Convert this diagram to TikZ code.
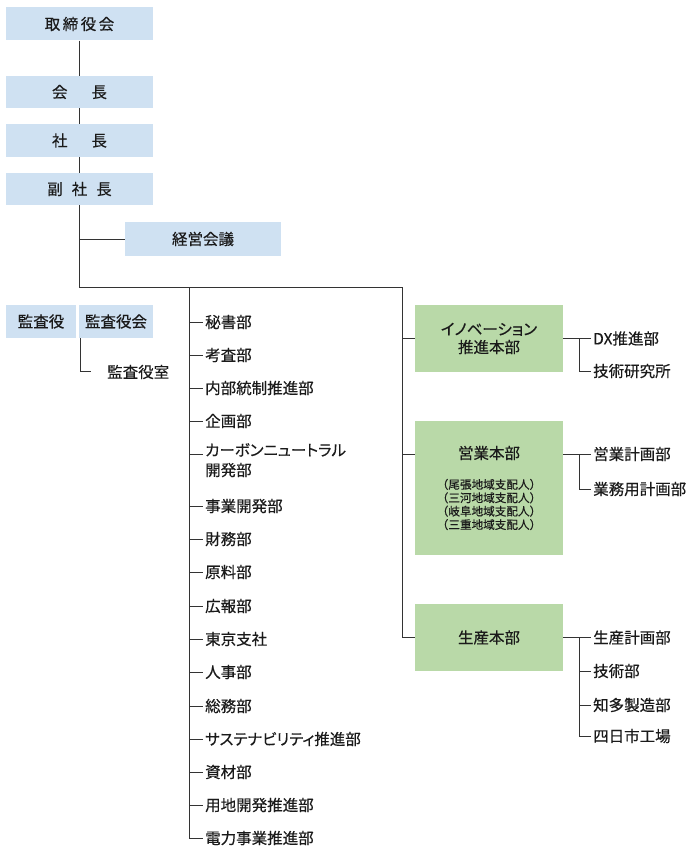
\documentclass[tikz,border=0pt]{standalone}
\usepackage{fontspec}
\setmainfont{Noto Sans CJK JP}[RawFeature=+palt, FakeBold=0.4]
\newfontfamily\cjkfull{Noto Sans CJK JP}[FakeBold=0.4]
\definecolor{boxblue}{HTML}{CFE1F2}
\definecolor{boxgreen}{HTML}{B9D9A8}
\definecolor{linegray}{HTML}{333333}
\definecolor{txt}{HTML}{1A1A1A}
\tikzset{
  bluebox/.style={fill=boxblue, inner sep=0pt, text=txt, font=\fontsize{15.5}{18}\selectfont},
  greenbox/.style={fill=boxgreen, inner sep=0pt, minimum width=148pt, text=txt, align=center, font=\fontsize{15.5}{18}\selectfont},
  item/.style={anchor=west, inner xsep=2pt, inner ysep=0pt, text=txt, align=left, font=\fontsize{15.5}{20}\selectfont},
  subtxt/.style={inner sep=0pt, text=txt, align=center, font=\cjkfull\fontsize{11.6}{13.4}\selectfont},
  conn/.style={draw=linegray, line width=0.9pt},
}
\begin{document}
\begin{tikzpicture}[x=1pt,y=-1pt]
\useasboundingbox (0,0) rectangle (700,859);

% top chain
\node[bluebox, minimum width=147pt, minimum height=33pt] (board) at (79.5,24) {取\kern2.5pt 締\kern2.5pt 役\kern2.5pt 会};
\node[bluebox, minimum width=147pt, minimum height=32pt] (chair) at (79.5,92) {会\hspace{24pt}長};
\node[bluebox, minimum width=147pt, minimum height=33pt] (pres) at (79.5,140.5) {社\hspace{24pt}長};
\node[bluebox, minimum width=147pt, minimum height=32pt] (vp) at (79.5,189) {副\hspace{9pt}社\hspace{9pt}長};
\node[bluebox, minimum width=156pt, minimum height=34pt] (mgmt) at (203,239) {経営会議};

\coordinate (j1) at (79.5,287);
\coordinate (j2) at (402,287);
\coordinate (t0) at (189,287);
\coordinate (kj) at (79.5,239);

\draw[conn] (board) -- (chair);
\draw[conn] (chair) -- (pres);
\draw[conn] (pres) -- (vp);
\draw[conn] (vp) -- (j1) -- (j2);
\draw[conn] (kj) -- (mgmt);

% audit
\node[bluebox, minimum width=70pt, minimum height=33pt] (auditor) at (41,321.5) {監査役};
\node[bluebox, minimum width=74pt, minimum height=33pt] (auditboard) at (116,321.5) {監査役会};
\coordinate (a1) at (80,338);
\coordinate (a2) at (91,371);
\node[item] (auditoffice) at (105,372) {監査役室};
\draw[conn] (a1) |- (a2);

% main list
\node[item] (i1) at (203,322) {秘書部};
\node[item] (i2) at (203,355) {考査部};
\node[item] (i3) at (203,388) {内部統制推進部};
\node[item] (i4) at (203,421) {企画部};
\coordinate (c5) at (203,454);
\node[item, anchor=north west] (i5) at (203,443) {カーボンニュートラル\\開発部};
\node[item] (i6) at (203,506) {事業開発部};
\node[item] (i7) at (203,539) {財務部};
\node[item] (i8) at (203,572) {原料部};
\node[item] (i9) at (203,606) {広報部};
\node[item] (i10) at (203,639) {東京支社};
\node[item] (i11) at (203,672) {人事部};
\node[item] (i12) at (203,706) {総務部};
\node[item] (i13) at (203,739) {サステナビリティ推進部};
\node[item] (i14) at (203,772) {資材部};
\node[item] (i15) at (203,805) {用地開発推進部};
\node[item] (i16) at (203,838) {電力事業推進部};

\draw[conn] (t0) |- (i16.west);
\foreach \n in {i1,i2,i3,i4,i6,i7,i8,i9,i10,i11,i12,i13,i14,i15}
  \draw[conn] (t0 |- \n.west) -- (\n.west);
\draw[conn] (t0 |- c5) -- (c5);

% green column
\node[greenbox, minimum height=67pt] (inov) at (489,338.5) {イノベーション\\推進本部};
\node[greenbox, minimum height=134pt] (sales) at (489,488) {};
\node[inner sep=0pt, text=txt, font=\fontsize{15.5}{18}\selectfont] (salesname) at (489,453) {営業本部};
\node[subtxt] (salessub) at (489,504.5) {（尾張地域支配人）\\（三河地域支配人）\\（岐阜地域支配人）\\（三重地域支配人）};
\node[greenbox, minimum height=67pt] (prod) at (489,637.5) {生産本部};

\coordinate (e1) at (415,454);
\draw[conn] (j2) |- (prod.west);
\draw[conn] (j2 |- inov.west) -- (inov.west);
\draw[conn] (j2 |- e1) -- (e1);

% right lists
\node[item] (dx) at (591,338.5) {DX推進部};
\node[item] (lab) at (591,371) {技術研究所};
\coordinate (r1) at (579,338.5);
\draw[conn] (inov.east) -- (dx.west);
\draw[conn] (r1) |- (lab.west);

\coordinate (e0) at (563,454);
\node[item] (splan) at (591,454) {営業計画部};
\node[item] (bplan) at (591,489) {業務用計画部};
\coordinate (r2) at (579,454);
\draw[conn] (e0) -- (splan.west);
\draw[conn] (r2) |- (bplan.west);

\node[item] (pplan) at (591,637.5) {生産計画部};
\node[item] (tech) at (591,671) {技術部};
\node[item] (chita) at (591,705) {知多製造部};
\node[item] (yokk) at (591,736) {四日市工場};
\coordinate (r3) at (579,637.5);
\draw[conn] (prod.east) -- (pplan.west);
\draw[conn] (r3) |- (yokk.west);
\draw[conn] (r3 |- tech.west) -- (tech.west);
\draw[conn] (r3 |- chita.west) -- (chita.west);
\end{tikzpicture}
\end{document}
